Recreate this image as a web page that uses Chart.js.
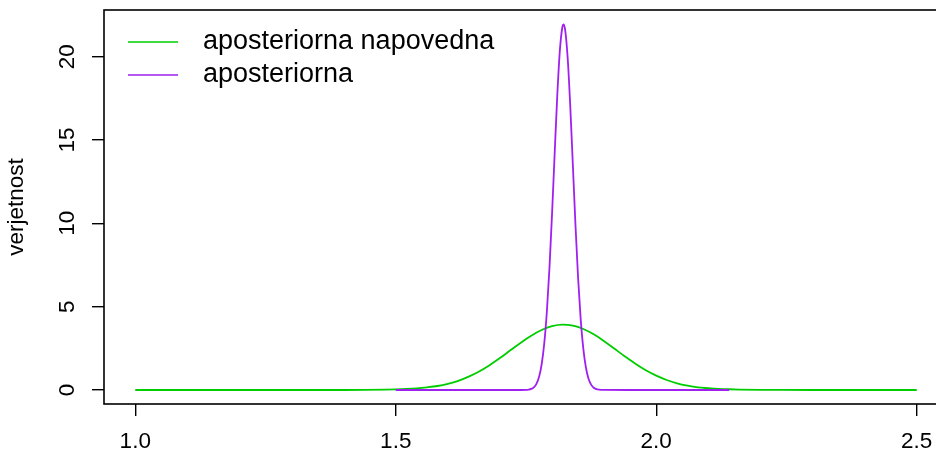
<!DOCTYPE html>
<html lang="sl">
<head>
<meta charset="UTF-8">
<title>Aposteriorna porazdelitev</title>
<script src="https://cdn.jsdelivr.net/npm/chart.js"></script>
<style>
  html, body { margin: 0; padding: 0; background: #fff; overflow: hidden; }
  /* the plot box runs a little past the right edge of the window */
  #wrap { width: 960px; height: 455px; }
</style>
</head>
<body>
<div id="wrap"><canvas id="chart" width="960" height="455"></canvas></div>
<script>
// predictive posterior (green)
const napovednaX = [1.0, 1.2, 1.3, 1.36, 1.40, 1.44, 1.48, 1.50, 1.52, 1.54, 1.56, 1.58, 1.60,
  1.62, 1.64, 1.66, 1.68, 1.70, 1.72, 1.74, 1.76, 1.78, 1.80, 1.82, 1.84, 1.86, 1.88, 1.90,
  1.92, 1.94, 1.96, 1.98, 2.00, 2.02, 2.04, 2.06, 2.08, 2.10, 2.12, 2.14, 2.16, 2.20, 2.24,
  2.30, 2.40, 2.50];
const napovednaY = [0, 0, 0, 0.0005, 0.001, 0.006, 0.02, 0.035, 0.06, 0.10, 0.16, 0.24, 0.37,
  0.55, 0.80, 1.11, 1.49, 1.92, 2.38, 2.84, 3.26, 3.60, 3.83, 3.92, 3.86, 3.66, 3.34, 2.93,
  2.47, 2.01, 1.57, 1.18, 0.86, 0.60, 0.40, 0.26, 0.16, 0.11, 0.07, 0.045, 0.028, 0.01, 0.003,
  0.0005, 0, 0];

// posterior (purple)
const posteriorX = [1.50, 1.70, 1.74, 1.75, 1.755, 1.76, 1.765, 1.77, 1.775, 1.78, 1.785, 1.79,
  1.795, 1.80, 1.805, 1.81, 1.815, 1.82, 1.822, 1.825, 1.83, 1.835, 1.84, 1.845, 1.85, 1.855,
  1.86, 1.865, 1.87, 1.875, 1.88, 1.885, 1.89, 1.90, 1.95, 2.14];
const posteriorY = [0, 0, 0.001, 0.009, 0.025, 0.066, 0.163, 0.37, 0.78, 1.53, 2.78, 4.68,
  7.30, 10.57, 14.18, 17.65, 20.38, 21.81, 21.94, 21.64, 19.92, 17.00, 13.45, 9.87, 6.72, 4.24,
  2.48, 1.35, 0.68, 0.32, 0.137, 0.055, 0.02, 0.002, 0, 0];

const xTicks = [1.0, 1.5, 2.0, 2.5];
const yTicks = [0, 5, 10, 15, 20];
const seriesNames = ['aposteriorna napovedna', 'aposteriorna'];
const seriesColors = ['#00cd00', '#a020f0'];
const yTitle = 'verjetnost';

const FONT = '"Liberation Sans", Arial, Helvetica, sans-serif';
const AXIS_PX = 22.5;
const LEGEND_PX = 27;

function toPoints(xs, ys) {
  return xs.map((x, i) => ({ x: x, y: ys[i] }));
}

// box around the plot, rotated y labels and the legend, R style
const rDecor = {
  id: 'rDecor',
  afterDraw(chart) {
    const ctx = chart.ctx;
    const a = chart.chartArea;
    const ys = chart.scales.y;
    ctx.save();
    ctx.strokeStyle = '#000';
    ctx.lineWidth = 1.6;
    ctx.strokeRect(a.left, a.top, a.right - a.left, a.bottom - a.top);

    ctx.fillStyle = '#000';
    ctx.textAlign = 'center';
    ctx.textBaseline = 'middle';
    ctx.font = AXIS_PX + 'px ' + FONT;
    yTicks.forEach(v => {
      ctx.save();
      ctx.translate(68, ys.getPixelForValue(v));
      ctx.rotate(-Math.PI / 2);
      ctx.fillText(String(v), 0, 0);
      ctx.restore();
    });
    ctx.save();
    ctx.translate(17, (a.top + a.bottom) / 2);
    ctx.rotate(-Math.PI / 2);
    ctx.fillText(yTitle, 0, 0);
    ctx.restore();

    ctx.font = LEGEND_PX + 'px ' + FONT;
    ctx.textAlign = 'left';
    seriesNames.forEach((name, i) => {
      const y = a.top + 32 + i * 33;
      ctx.strokeStyle = seriesColors[i];
      ctx.lineWidth = 1.6;
      ctx.beginPath();
      ctx.moveTo(a.left + 24, y);
      ctx.lineTo(a.left + 74, y);
      ctx.stroke();
      ctx.fillText(name, a.left + 99, y);
    });
    ctx.restore();
  }
};

new Chart(document.getElementById('chart'), {
  type: 'line',
  data: {
    datasets: [
      {
        label: seriesNames[0],
        data: toPoints(napovednaX, napovednaY),
        borderColor: seriesColors[0],
        borderWidth: 1.8,
        pointRadius: 0,
        fill: false,
        cubicInterpolationMode: 'monotone',
        order: 1
      },
      {
        label: seriesNames[1],
        data: toPoints(posteriorX, posteriorY),
        borderColor: seriesColors[1],
        borderWidth: 1.8,
        pointRadius: 0,
        fill: false,
        cubicInterpolationMode: 'monotone',
        order: 0
      }
    ]
  },
  options: {
    responsive: false,
    animation: false,
    layout: { padding: { left: 0, right: 12, top: 10, bottom: 0 } },
    plugins: { legend: { display: false }, tooltip: { enabled: false } },
    scales: {
      x: {
        type: 'linear',
        min: 0.94,
        max: 2.56,
        afterBuildTicks: s => { s.ticks = xTicks.map(v => ({ value: v })); },
        afterFit: s => { s.height = 51; },
        ticks: {
          color: '#000',
          font: { family: FONT, size: AXIS_PX },
          padding: 12,
          maxRotation: 0,
          callback: v => Number(v).toFixed(1)
        },
        grid: { drawOnChartArea: false, drawTicks: true, tickLength: 12, color: '#000', lineWidth: 1.4 },
        border: { display: false }
      },
      y: {
        type: 'linear',
        min: -0.84,
        max: 22.8,
        afterBuildTicks: s => { s.ticks = yTicks.map(v => ({ value: v })); },
        afterFit: s => { s.width = 104; },
        ticks: { display: false },
        grid: { drawOnChartArea: false, drawTicks: true, tickLength: 12, color: '#000', lineWidth: 1.4 },
        border: { display: false }
      }
    }
  },
  plugins: [rDecor]
});
</script>
</body>
</html>
